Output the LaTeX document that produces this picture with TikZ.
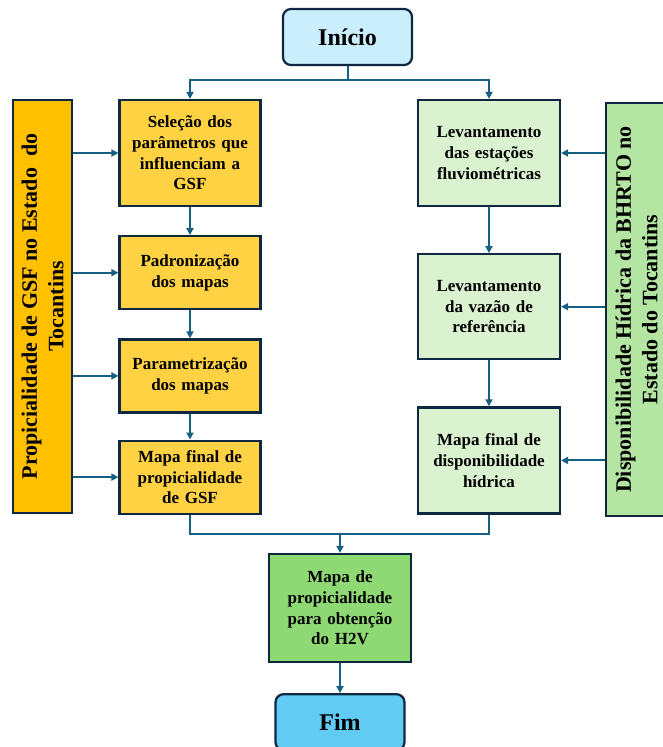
\documentclass[tikz,border=0pt]{standalone}
\usepackage{fontspec}
\setmainfont{Liberation Serif}
\usepackage{xcolor}
\usepackage{tikz}
\usetikzlibrary{arrows.meta, positioning, calc}
\definecolor{framenavy}{RGB}{14,40,65}
\definecolor{arrowblue}{RGB}{21,96,130}
\definecolor{startcyan}{HTML}{CAEEFB}
\definecolor{endblue}{HTML}{61CBF3}
\definecolor{gsfgold}{HTML}{FFC000}
\definecolor{gsflight}{HTML}{FFD243}
\definecolor{hidrogreen}{HTML}{B4E5A2}
\definecolor{hidrolight}{HTML}{DAF2D0}
\definecolor{h2vgreen}{HTML}{8ED973}
\tikzset{
  block/.style={rectangle, draw=framenavy, line width=2.2pt, align=center,
    inner sep=2pt, font=\fontsize{17}{20.7}\selectfont\bfseries},
  gsfblock/.style={block, fill=gsflight, minimum width=141pt, text width=137pt},
  hidroblock/.style={block, fill=hidrolight, minimum width=142pt, text width=138pt},
  termblock/.style={block, rounded corners=8pt, minimum width=129pt,
    font=\fontsize{24}{28}\selectfont\bfseries},
  sidebar/.style={block, rotate=90, minimum width=413pt,
    font=\fontsize{22}{26.5}\selectfont\bfseries},
  arrow/.style={-{Triangle[length=7pt, width=7pt]}, line width=2pt, color=arrowblue},
  joinline/.style={line width=2pt, color=arrowblue},
}

\begin{document}
\begin{tikzpicture}[x=1pt, y=1pt]

  \useasboundingbox (0,0) rectangle (662,-747);

  %% -- start --------------------------------------------------
  \node[termblock, fill=startcyan, minimum height=56pt] (inicio)
    at (347.5,-37) {Início};

  %% -- GSF column ---------------------------------------------
  \node[gsfblock, minimum height=106pt] (sel) at (190,-153)
    {Seleção dos\\parâmetros que\\influenciam a\\GSF};
  \node[gsfblock, below=28pt of sel, minimum height=73pt] (pad)
    {Padronização\\dos mapas};
  \node[gsfblock, below=28pt of pad, minimum height=73pt] (param)
    {Parametrização\\dos mapas};
  \node[gsfblock, below=26pt of param, minimum height=73pt] (mapgsf)
    {Mapa final de\\propicialidade\\de GSF};

  \node[sidebar, fill=gsfgold, minimum height=59pt] (gsfbar) at (42.5,-306.5)
    {Propicialidade de GSF no Estado~ do\\Tocantins};

  %% -- water availability column -----------------------------
  \node[hidroblock, minimum height=106pt] (lev) at (489,-153)
    {Levantamento\\das estações\\fluviométricas};
  \node[hidroblock, below=46pt of lev, minimum height=105pt] (vazao)
    {Levantamento\\da vazão de\\referência};
  \node[hidroblock, below=46pt of vazao, minimum height=106pt] (mapdisp)
    {Mapa final de\\disponibilidade\\hídrica};

  \node[sidebar, fill=hidrogreen, minimum height=61pt] (hidrobar) at (636.5,-309.5)
    {Disponibilidade Hídrica da BHRTO no\\Estado do Tocantins};

  %% -- result and end -----------------------------------------
  \node[block, fill=h2vgreen, minimum width=142pt, text width=138pt,
        minimum height=108pt] (h2v) at (340,-608)
    {Mapa de\\propicialidade\\para obtenção\\do H2V};
  \node[termblock, fill=endblue, below=30pt of h2v, minimum height=56pt] (fim)
    {Fim};

  %% -- connectors ---------------------------------------------
  \draw[joinline] (inicio.south) -- ++(0,-14) coordinate (split);
  \draw[arrow] (split) -| (sel.north);
  \draw[arrow] (split) -| (lev.north);

  \draw[arrow] (sel)   -- (pad);
  \draw[arrow] (pad)   -- (param);
  \draw[arrow] (param) -- (mapgsf);
  \draw[arrow] (lev)   -- (vazao);
  \draw[arrow] (vazao) -- (mapdisp);

  \foreach \n in {sel, pad, param, mapgsf}
    \draw[arrow] (gsfbar.south |- \n.west) -- (\n.west);
  \foreach \n in {lev, vazao, mapdisp}
    \draw[arrow] (hidrobar.north |- \n.east) -- (\n.east);

  \draw[joinline] (mapgsf.south) -- ++(0,-19) coordinate (merge) -| (mapdisp.south);
  \draw[arrow] (merge -| h2v.north) -- (h2v.north);
  \draw[arrow] (h2v) -- (fim);

\end{tikzpicture}
\end{document}
